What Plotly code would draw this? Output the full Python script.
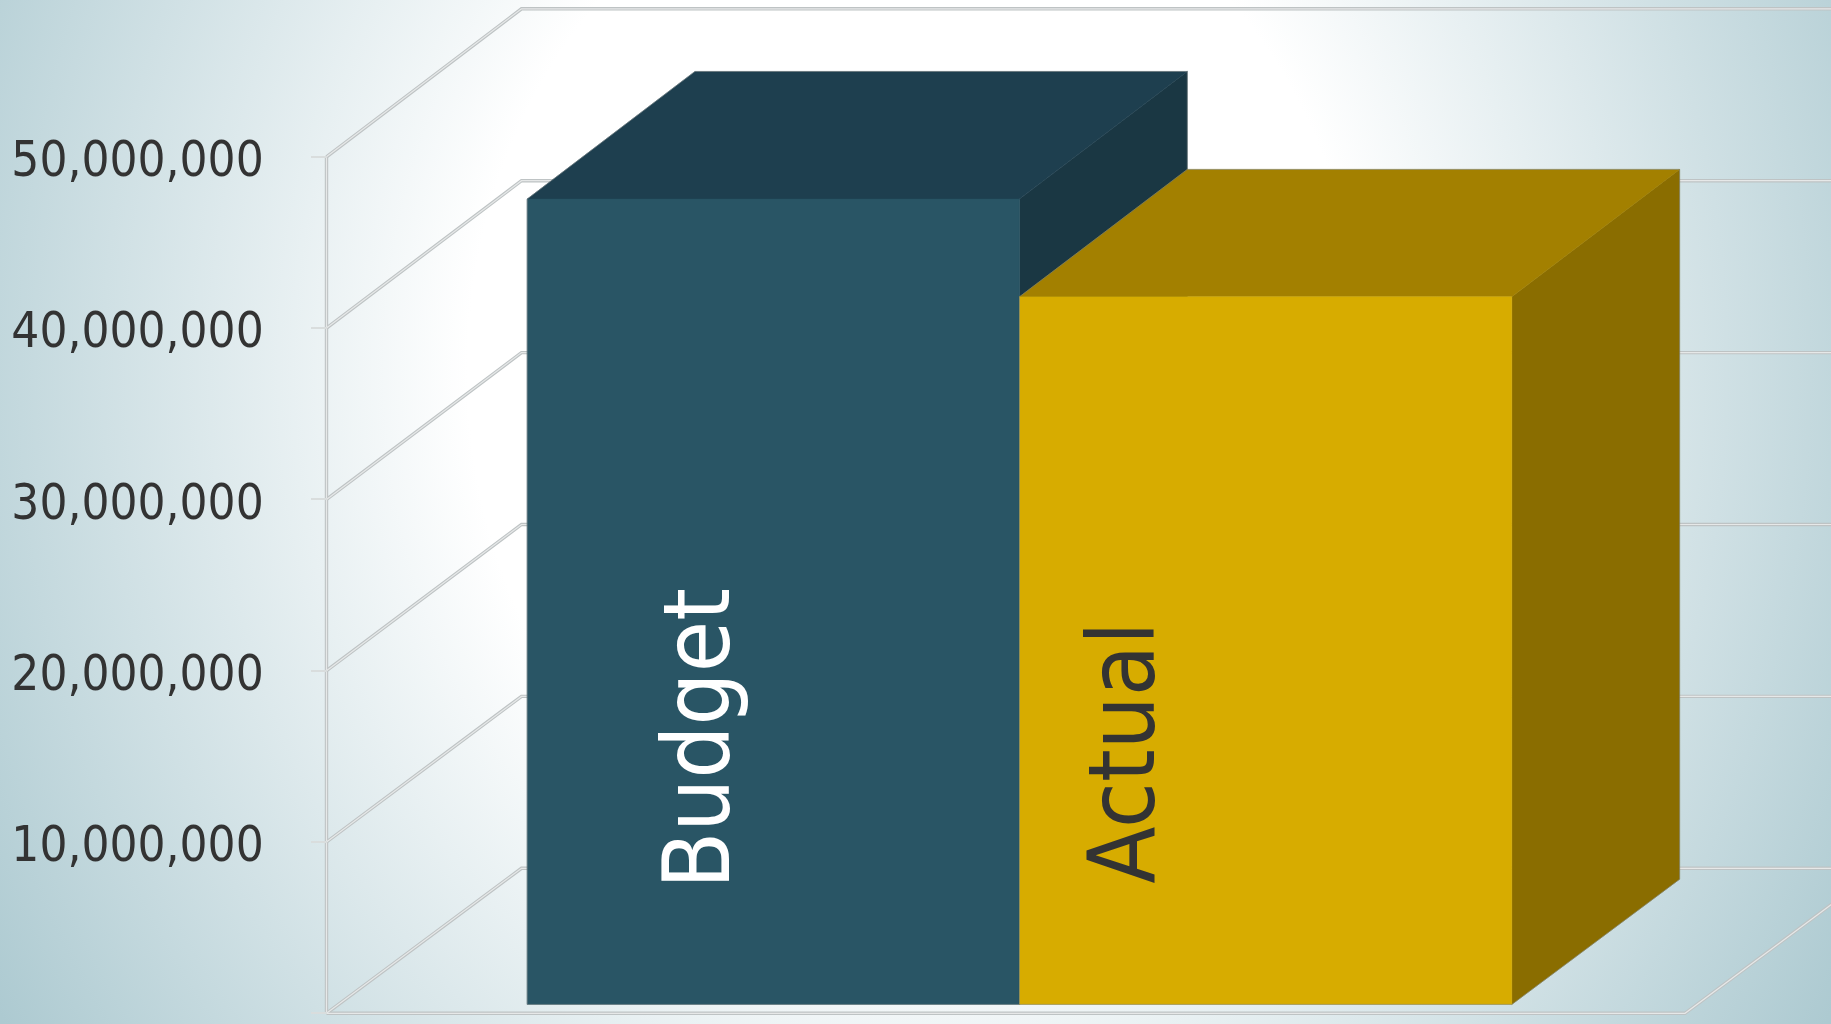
import base64
import plotly.graph_objects as go

# Series and axis values
categories = ["Budget", "Actual"]
values = [47_000_000, 41_300_000]
tick_values = [0, 10_000_000, 20_000_000, 30_000_000, 40_000_000, 50_000_000]
tick_labels = ["-\u00a0\u00a0", "10,000,000", "20,000,000", "30,000,000", "40,000,000", "50,000,000"]

front_colors = ["#295565", "#D7AC00"]
top_colors = ["#1E3F4F", "#A38000"]
side_colors = ["#1A3743", "#8A6D00"]
label_colors = ["#FFFFFF", "#333333"]

W, H = 1831, 1024
PX_LEFT, PX_RIGHT = 326.5, 1685.0    # floor front edge on the canvas
PX_ZERO = 1013.3                      # baseline on the canvas
PX_PER_UNIT = 171.3 / 10_000_000      # vertical scale
span = PX_RIGHT - PX_LEFT

# Oblique projection: one unit of depth shifts a point right and up,
# with a slight vertical stretch towards the back wall
DX = 195.0 / span
DY = 145.0 / PX_PER_UNIT
STRETCH = 0.0035
BAR_NEAR, BAR_FAR = 0.0614, 0.925
GAP = 0.1389
BAR_W = 0.3624
BAR_SKEW = 0.6 / span


def project(x, v, depth):
    return x + depth * DX, v * (1 + STRETCH * depth) + depth * DY


def polygon(corners):
    pts = [project(*c) for c in corners] + [project(*corners[0])]
    return [p[0] for p in pts], [p[1] for p in pts]


def face(corners, color):
    xs, ys = polygon(corners)
    return go.Scatter(x=xs, y=ys, mode="lines", fill="toself", fillcolor=color,
                      line=dict(color=color, width=0.5), hoverinfo="skip", showlegend=False)


def wire(corners, color, width):
    pts = [project(*c) for c in corners]
    return go.Scatter(x=[p[0] for p in pts], y=[p[1] for p in pts], mode="lines",
                      line=dict(color=color, width=width), hoverinfo="skip", showlegend=False)


fig = go.Figure()

# Wall grid, side wall edge and floor outline, each stroked twice for a bevelled look
frame_paths = [[(0, v, 0), (0, v, 1), (2, v, 1)] for v in tick_values]
frame_paths.append([(0, 0, 0), (0, tick_values[-1], 0)])
frame_paths.append([(0, 0, 0), (1, 0, 0), (1, 0, 1)])
for path in frame_paths:
    fig.add_trace(wire(path, "#BEC3C4", 3.4))
for path in frame_paths:
    fig.add_trace(wire(path, "#E6E8E8", 1.2))

# Boxes, far faces first; the second box overlaps the side of the first
for i, (name, val) in enumerate(zip(categories, values)):
    x0 = GAP + i * BAR_W
    x1 = x0 + BAR_W
    x0_far = x0 - BAR_SKEW
    x1_far = x1 - BAR_SKEW
    outline = [(x0, 0, BAR_NEAR), (x0, val, BAR_NEAR), (x0_far, val, BAR_FAR), (x1_far, val, BAR_FAR),
               (x1_far, 0, BAR_FAR), (x1, 0, BAR_NEAR), (x0, 0, BAR_NEAR)]
    fig.add_trace(face([(x1, 0, BAR_NEAR), (x1, val, BAR_NEAR), (x1_far, val, BAR_FAR), (x1_far, 0, BAR_FAR)],
                       side_colors[i]))
    fig.add_trace(face([(x0, val, BAR_NEAR), (x1, val, BAR_NEAR), (x1_far, val, BAR_FAR), (x0_far, val, BAR_FAR)],
                       top_colors[i]))
    fig.add_trace(face([(x0, 0, BAR_NEAR), (x1, 0, BAR_NEAR), (x1, val, BAR_NEAR), (x0, val, BAR_NEAR)],
                       front_colors[i]))
    fig.add_trace(wire(outline, "rgba(125,135,135,0.55)", 1))

# Series names written up the front faces
label_x = [GAP + 0.1335, GAP + BAR_W + 0.0840]
label_bottom_px = [891, 886]
label_font = "DejaVu Sans Condensed, DejaVu Sans, sans-serif"
annotations = [
    dict(x=label_x[i], y=(PX_ZERO - label_bottom_px[i]) / PX_PER_UNIT, xref="x", yref="y", text=categories[i],
         textangle=-90, showarrow=False, xanchor="center", yanchor="bottom",
         font=dict(family=label_font, size=93, color=label_colors[i]))
    for i in range(2)
]

# Soft elliptical wash behind everything
svg = f"""<svg xmlns="http://www.w3.org/2000/svg" width="{W}" height="{H}">
<defs><radialGradient id="g" gradientUnits="userSpaceOnUse" cx="0" cy="0" r="1070"
gradientTransform="translate(915 370) scale(1 1.163)">
<stop offset="0.418" stop-color="#FFFFFF"/><stop offset="1" stop-color="#ADCAD1"/>
</radialGradient></defs><rect width="{W}" height="{H}" fill="url(#g)"/></svg>"""
wash = "data:image/svg+xml;base64," + base64.b64encode(svg.encode()).decode()

# Plotly places a tick only strictly inside its subplot test, so the baseline tick sits one unit above zero
axis_tick_positions = [max(v, 1) for v in tick_values]

fig.update_layout(
    width=W, height=H, margin=dict(l=0, r=0, t=0, b=0),
    paper_bgcolor="rgba(0,0,0,0)", plot_bgcolor="rgba(0,0,0,0)",
    showlegend=False, annotations=annotations,
    images=[dict(source=wash, xref="paper", yref="paper", x=0, y=1, sizex=1, sizey=1,
                 xanchor="left", yanchor="top", sizing="stretch", layer="below")],
    xaxis=dict(range=[-PX_LEFT / span, (W - PX_LEFT) / span], domain=[0, 1], visible=False, fixedrange=True),
    yaxis=dict(
        range=[-(H - PX_ZERO) / PX_PER_UNIT, PX_ZERO / PX_PER_UNIT], domain=[0, 1],
        anchor="free", position=PX_LEFT / W,
        tickmode="array", tickvals=axis_tick_positions, ticktext=tick_labels,
        ticks="outside", ticklen=16, tickwidth=2, tickcolor="#D9DDDD",
        ticklabelstandoff=37, ticklabelshift=2,
        tickfont=dict(family=label_font, size=49, color="#333333"),
        showgrid=False, zeroline=False, showline=False, fixedrange=True,
    ),
)

fig.write_html("out.html", config={"displayModeBar": False})
